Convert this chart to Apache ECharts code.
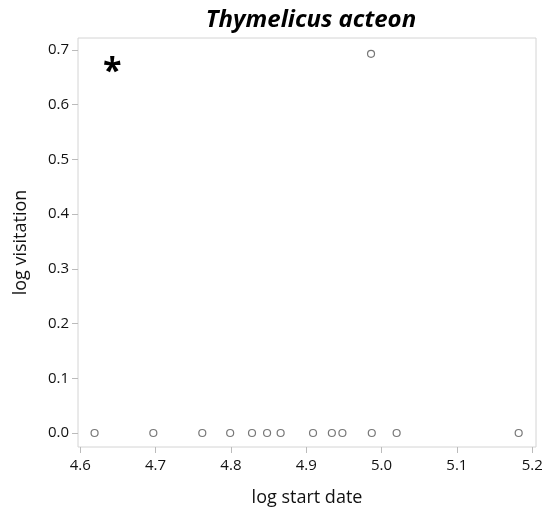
<!DOCTYPE html>
<html>
<head>
<meta charset="utf-8">
<script src="https://cdn.jsdelivr.net/npm/echarts@6/dist/echarts.min.js"></script>
<style>
  html, body { margin: 0; padding: 0; background: #fff; }
  #chart { width: 547px; height: 513px; }
</style>
</head>
<body>
<div id="chart"></div>
<script>
// Log start date vs. log visitation for Thymelicus acteon
const logStartDate = [4.619, 4.697, 4.762, 4.799, 4.828, 4.848, 4.866, 4.909, 4.934, 4.948, 4.987, 5.020, 5.182, 4.986];
const logVisitation = [0, 0, 0, 0, 0, 0, 0, 0, 0, 0, 0, 0, 0, 0.693];
const xTicks = [4.6, 4.7, 4.8, 4.9, 5.0, 5.1, 5.2];
const yTicks = [0.0, 0.1, 0.2, 0.3, 0.4, 0.5, 0.6, 0.7];

const points = logStartDate.map((x, i) => [x, logVisitation[i]]);
const font = '"Open Sans", "Liberation Sans", sans-serif';

const chart = echarts.init(document.getElementById('chart'), null, { renderer: 'canvas' });
chart.setOption({
  backgroundColor: '#ffffff',
  animation: false,
  title: {
    text: 'Thymelicus acteon',
    left: 306,
    textAlign: 'center',
    top: 3,
    textStyle: { fontFamily: font, fontSize: 24, fontWeight: 'bold', fontStyle: 'italic', color: '#000' }
  },
  grid: {
    left: 78, right: 11, top: 38, bottom: 66,
    outerBoundsMode: 'none',
    containLabel: false,
    show: true, borderColor: '#d4d4d4', borderWidth: 1, backgroundColor: 'transparent'
  },
  xAxis: {
    type: 'value',
    min: 4.597, max: 5.205,
    name: 'log start date',
    nameLocation: 'middle',
    nameGap: 42,
    nameTextStyle: { fontFamily: font, fontSize: 18, color: '#111' },
    axisLine: { show: false, onZero: false },
    splitLine: { show: false },
    axisTick: { show: true, length: 6, customValues: xTicks, lineStyle: { color: '#bbb' } },
    axisLabel: {
      customValues: xTicks, margin: 11,
      fontFamily: font, fontSize: 15, color: '#111',
      formatter: v => v.toFixed(1)
    }
  },
  yAxis: {
    type: 'value',
    min: -0.0256, max: 0.722,
    name: 'log visitation',
    nameLocation: 'middle',
    nameGap: 48,
    nameRotate: 90,
    nameTextStyle: { fontFamily: font, fontSize: 18, color: '#111' },
    axisLine: { show: false, onZero: false },
    splitLine: { show: false },
    axisTick: { show: true, length: 6, customValues: yTicks, lineStyle: { color: '#bbb' } },
    axisLabel: {
      customValues: yTicks, margin: 9,
      fontFamily: font, fontSize: 15, color: '#111',
      formatter: v => v.toFixed(1)
    }
  },
  series: [{
    type: 'scatter',
    data: points,
    symbol: 'circle',
    symbolSize: 7,
    itemStyle: { color: '#fff', borderColor: '#555', borderWidth: 1.2 }
  }],
  graphic: [{
    type: 'text',
    left: 103, top: 55,
    style: { text: '*', fontFamily: font, fontSize: 34, fontWeight: 'bold', fill: '#000' }
  }]
});
</script>
</body>
</html>
